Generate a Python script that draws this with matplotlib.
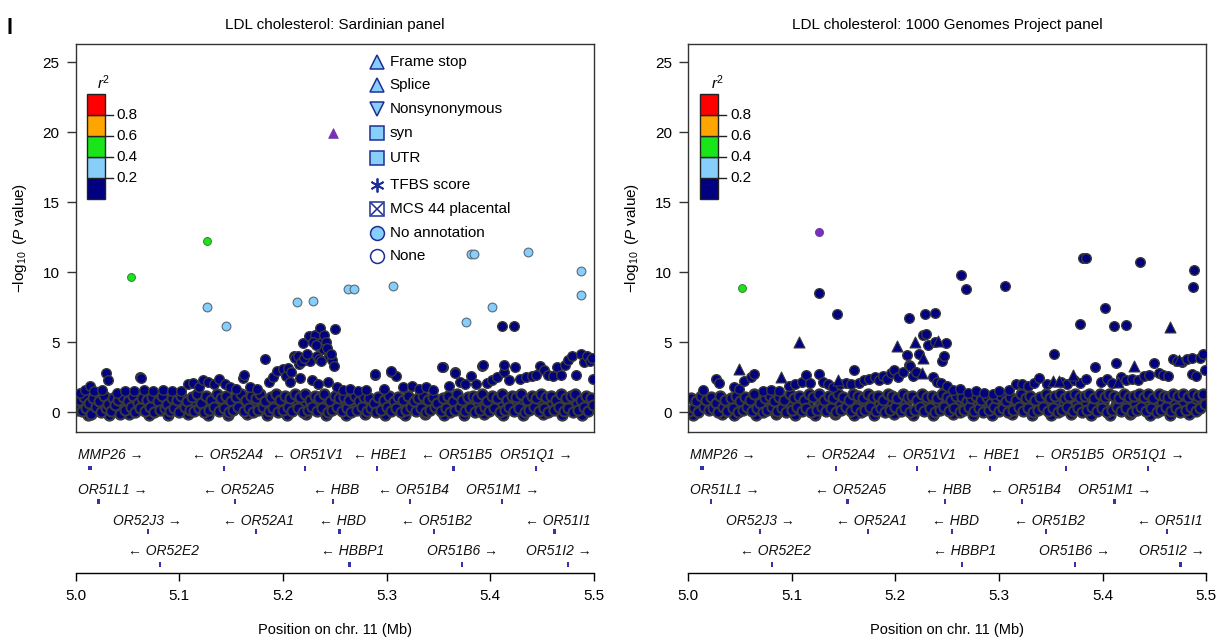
import matplotlib
matplotlib.use('Agg')
import matplotlib.pyplot as plt
from matplotlib.patches import Rectangle

plt.rcParams['font.family'] = ['Liberation Sans', 'DejaVu Sans']
plt.rcParams['mathtext.fontset'] = 'custom'
plt.rcParams['mathtext.rm'] = 'Liberation Sans'
plt.rcParams['mathtext.it'] = 'Liberation Sans:italic'
plt.rcParams['mathtext.bf'] = 'Liberation Sans:bold'

# ---------------- data ----------------
panel_titles = ['LDL cholesterol: Sardinian panel', 'LDL cholesterol: 1000 Genomes Project panel']
y_ticks = [0, 5, 10, 15, 20, 25]
x_ticks = [5.0, 5.1, 5.2, 5.3, 5.4, 5.5]
r2_labels = ['0.8', '0.6', '0.4', '0.2']

# dense low-significance SNP band (positions shared by both panels)
band_x = [5.001, 5.003, 5.006, 5.008, 5.010, 5.013, 5.015, 5.017, 5.020, 5.022,
          5.024, 5.027, 5.029, 5.031, 5.034, 5.036, 5.038, 5.041, 5.043, 5.046,
          5.048, 5.050, 5.053, 5.055, 5.057, 5.060, 5.062, 5.064, 5.067, 5.069,
          5.072, 5.074, 5.076, 5.079, 5.081, 5.083, 5.086, 5.088, 5.091, 5.093,
          5.095, 5.098, 5.100, 5.102, 5.105, 5.107, 5.110, 5.112, 5.114, 5.117,
          5.119, 5.121, 5.124, 5.126, 5.129, 5.131, 5.133, 5.136, 5.138, 5.140,
          5.143, 5.145, 5.148, 5.150, 5.152, 5.155, 5.157, 5.159, 5.162, 5.164,
          5.167, 5.169, 5.171, 5.174, 5.176, 5.178, 5.181, 5.183, 5.186, 5.188,
          5.190, 5.193, 5.195, 5.197, 5.200, 5.202, 5.205, 5.207, 5.209, 5.212,
          5.214, 5.216, 5.219, 5.221, 5.224, 5.226, 5.228, 5.231, 5.233, 5.235,
          5.238, 5.240, 5.243, 5.245, 5.247, 5.250, 5.252, 5.254, 5.257, 5.259,
          5.262, 5.264, 5.266, 5.269, 5.271, 5.273, 5.276, 5.278, 5.281, 5.283,
          5.285, 5.288, 5.290, 5.292, 5.295, 5.297, 5.300, 5.302, 5.304, 5.307,
          5.309, 5.311, 5.314, 5.316, 5.319, 5.321, 5.323, 5.326, 5.328, 5.330,
          5.333, 5.335, 5.338, 5.340, 5.342, 5.345, 5.347, 5.349, 5.352, 5.354,
          5.357, 5.359, 5.361, 5.364, 5.366, 5.368, 5.371, 5.373, 5.376, 5.378,
          5.380, 5.383, 5.385, 5.387, 5.390, 5.392, 5.395, 5.397, 5.399, 5.402,
          5.404, 5.406, 5.409, 5.411, 5.414, 5.416, 5.418, 5.421, 5.423, 5.425,
          5.428, 5.430, 5.433, 5.435, 5.437, 5.440, 5.442, 5.444, 5.447, 5.449,
          5.452, 5.454, 5.456, 5.459, 5.461, 5.463, 5.466, 5.468, 5.471, 5.473,
          5.475, 5.478, 5.480, 5.482, 5.485, 5.487, 5.490, 5.492, 5.494, 5.497,
          5.499]

sard_band_y = [0.2, 0.9, 0.1, 1.1, 0.3, 0.7, -0.1, 1.0, 0.4, 0.8,
               0.0, 1.2, 0.3, 0.6, 0.1, 1.0, 0.5, 0.9, -0.1, 1.1,
               0.2, 0.8, 0.4, 1.2, 0.0, 0.7, 0.3, 1.0, 0.1, 0.9,
               0.4, 1.1, 0.0, 0.8, 0.2, 1.2, 0.3, 0.6, 0.1, 1.0,
               0.3, 0.9, 0.0, 1.2, 0.4, 0.8, 0.2, 1.1, 0.1, 1.3,
               0.3, 0.7, 0.0, 1.2, 0.2, 0.9, 0.4, 1.3, 0.1, 1.0,
               0.3, 1.2, 0.0, 0.8, 0.2, 1.1, 0.4, 1.3, 0.1, 0.9,
               0.3, 1.2, 0.0, 1.0, 0.2, 1.3, 0.4, 0.8, 0.1, 1.1,
               0.3, 1.3, 0.0, 0.9, 0.2, 1.2, 0.4, 1.0, 0.1, 1.3,
               0.3, 1.1, 0.0, 1.3, 0.2, 0.9, 0.4, 1.2, 0.1, 1.0,
               0.3, 1.3, 0.0, 0.8, 0.2, 1.2, 0.4, 1.0, 0.1, 1.1,
               0.3, 0.9, 0.0, 1.2, 0.2, 0.8, 0.4, 1.1, 0.1, 1.0,
               0.3, 0.7, 0.0, 1.1, 0.2, 0.9, 0.4, 1.2, 0.1, 0.8,
               0.3, 1.1, 0.0, 0.9, 0.2, 1.2, 0.4, 0.8, 0.1, 1.0,
               0.3, 1.2, 0.0, 0.9, 0.2, 1.1, 0.4, 0.7, 0.1, 1.0,
               0.3, 1.2, 0.0, 0.8, 0.2, 1.3, 0.4, 0.9, 0.1, 1.1,
               0.3, 1.2, 0.0, 1.0, 0.2, 1.3, 0.4, 0.8, 0.1, 1.2,
               0.3, 1.0, 0.0, 1.3, 0.2, 0.9, 0.4, 1.2, 0.1, 1.1,
               0.3, 1.3, 0.0, 0.9, 0.2, 1.2, 0.4, 1.0, 0.1, 1.3,
               0.3, 1.1, 0.0, 1.2, 0.2, 0.9, 0.4, 1.3, 0.1, 1.0,
               0.3, 1.2, 0.0, 1.3, 0.2, 0.9, 0.4, 1.2, 0.1, 1.0,
               0.5]

kg_band_y = [0.1, 1.0, 0.3, 0.8, 0.0, 1.2, 0.4, 0.9, 0.2, 1.1,
             0.3, 0.7, 0.0, 1.2, 0.4, 0.9, 0.1, 1.0, 0.3, 1.2,
             0.0, 0.8, 0.2, 1.1, 0.4, 0.9, 0.1, 1.3, 0.3, 0.7,
             0.0, 1.0, 0.2, 1.2, 0.4, 0.8, 0.1, 1.1, 0.3, 0.9,
             0.0, 1.3, 0.2, 1.0, 0.4, 1.2, 0.1, 0.9, 0.3, 1.3,
             0.0, 1.1, 0.2, 1.3, 0.4, 0.9, 0.1, 1.2, 0.3, 1.0,
             0.0, 1.3, 0.2, 1.1, 0.4, 0.9, 0.1, 1.3, 0.3, 1.2,
             0.0, 1.0, 0.2, 1.3, 0.4, 1.1, 0.1, 1.2, 0.3, 0.9,
             0.0, 1.3, 0.2, 1.2, 0.4, 1.0, 0.1, 1.3, 0.3, 1.1,
             0.0, 1.2, 0.2, 0.9, 0.4, 1.3, 0.1, 1.1, 0.3, 1.2,
             0.0, 1.0, 0.2, 1.3, 0.4, 1.1, 0.1, 0.9, 0.3, 1.2,
             0.0, 1.1, 0.2, 0.8, 0.4, 1.0, 0.1, 1.2, 0.3, 0.9,
             0.0, 1.1, 0.2, 0.7, 0.4, 1.0, 0.1, 1.2, 0.3, 0.8,
             0.0, 1.1, 0.2, 0.9, 0.4, 1.3, 0.1, 1.0, 0.3, 1.2,
             0.0, 0.9, 0.2, 1.1, 0.4, 1.3, 0.1, 1.0, 0.3, 1.2,
             0.0, 1.3, 0.2, 1.0, 0.4, 1.2, 0.1, 1.3, 0.3, 1.1,
             0.0, 1.2, 0.2, 1.3, 0.4, 1.0, 0.1, 1.3, 0.3, 1.1,
             0.0, 1.3, 0.2, 1.2, 0.4, 1.0, 0.1, 1.3, 0.3, 1.1,
             0.0, 1.2, 0.2, 1.3, 0.4, 1.1, 0.1, 1.3, 0.3, 1.0,
             0.0, 1.3, 0.2, 1.2, 0.4, 1.1, 0.1, 1.3, 0.3, 1.2,
             0.0, 1.3, 0.2, 1.1, 0.4, 1.3, 0.1, 1.2, 0.3, 1.3,
             0.6]

# second set of band SNPs (filling the gaps)
band2_x = [5.0045, 5.0115, 5.0185, 5.0255, 5.0325, 5.0395, 5.0445, 5.0515, 5.0585, 5.0655,
           5.0705, 5.0775, 5.0845, 5.0895, 5.0965, 5.1035, 5.1085, 5.1155, 5.1225, 5.1275,
           5.1345, 5.1415, 5.1465, 5.1535, 5.1605, 5.1655, 5.1725, 5.1795, 5.1845, 5.1915,
           5.1985, 5.2035, 5.2105, 5.2175, 5.2225, 5.2295, 5.2365, 5.2415, 5.2485, 5.2555,
           5.2605, 5.2675, 5.2745, 5.2795, 5.2865, 5.2935, 5.2985, 5.3055, 5.3125, 5.3175,
           5.3245, 5.3315, 5.3365, 5.3435, 5.3505, 5.3555, 5.3625, 5.3695, 5.3745, 5.3815,
           5.3885, 5.3935, 5.4005, 5.4075, 5.4125, 5.4195, 5.4265, 5.4315, 5.4385, 5.4455,
           5.4505, 5.4575, 5.4645, 5.4695, 5.4765, 5.4835, 5.4885, 5.4955]
sard_band2_y = [0.6, -0.2, 0.7, 0.5, -0.2, 0.6, 0.7, -0.1, 0.5, 0.6,
                -0.2, 0.7, 0.6, -0.2, 0.5, 0.7, -0.1, 0.6, 0.7, -0.2,
                0.5, 0.6, -0.2, 0.7, 0.6, -0.1, 0.5, 0.7, -0.2, 0.6,
                0.7, -0.2, 0.6, 0.5, -0.1, 0.7, 0.6, -0.2, 0.5, 0.7,
                -0.2, 0.6, 0.7, -0.1, 0.5, 0.6, -0.2, 0.7, 0.6, -0.2,
                0.5, 0.7, -0.1, 0.6, 0.7, -0.2, 0.5, 0.6, -0.2, 0.7,
                0.6, -0.1, 0.5, 0.7, -0.2, 0.6, 0.7, -0.2, 0.5, 0.6,
                -0.1, 0.7, 0.6, -0.2, 0.5, 0.7, -0.2, 0.6]
kg_band2_y = [-0.2, 0.6, 0.5, 0.7, -0.1, 0.6, -0.2, 0.7, 0.5, -0.2,
              0.6, 0.7, -0.1, 0.5, 0.6, -0.2, 0.7, 0.6, -0.2, 0.5,
              0.7, -0.1, 0.6, 0.5, -0.2, 0.7, 0.6, -0.2, 0.5, 0.7,
              -0.1, 0.6, 0.7, -0.2, 0.5, 0.6, -0.2, 0.7, 0.6, -0.1,
              0.5, 0.7, -0.2, 0.6, 0.5, -0.2, 0.7, 0.6, -0.1, 0.5,
              0.7, -0.2, 0.6, 0.5, -0.2, 0.7, 0.6, -0.1, 0.5, 0.7,
              -0.2, 0.6, 0.7, -0.2, 0.5, 0.6, -0.1, 0.7, 0.6, -0.2,
              0.5, 0.7, -0.2, 0.6, 0.5, -0.1, 0.7, 0.6]

# Sardinian panel: scattered navy SNPs (r2 < 0.2) above the band
sard_navy_x = [5.004, 5.009, 5.014, 5.018, 5.025, 5.029, 5.031, 5.040, 5.048, 5.056,
               5.062, 5.066, 5.075, 5.084, 5.093, 5.102, 5.108, 5.113, 5.119, 5.123,
               5.128, 5.133, 5.138, 5.144, 5.149, 5.155, 5.161, 5.162, 5.168, 5.175,
               5.183, 5.186, 5.190, 5.194, 5.200, 5.203, 5.207, 5.211, 5.215, 5.216,
               5.219, 5.222, 5.225, 5.226, 5.231, 5.233, 5.236, 5.238, 5.240, 5.241,
               5.239, 5.244, 5.247, 5.249, 5.250, 5.228, 5.234, 5.243, 5.252, 5.258,
               5.265, 5.272, 5.280, 5.289, 5.297, 5.304, 5.309, 5.316, 5.324, 5.331,
               5.338, 5.345, 5.354, 5.360, 5.366, 5.371, 5.376, 5.381, 5.386, 5.392,
               5.397, 5.402, 5.406, 5.413, 5.418, 5.424, 5.429, 5.434, 5.440, 5.444,
               5.448, 5.452, 5.456, 5.460, 5.464, 5.468, 5.472, 5.475, 5.479, 5.483,
               5.487, 5.490, 5.493, 5.496, 5.498, 5.499, 5.411, 5.423, 5.393, 5.413,
               5.353, 5.366, 5.063, 5.304, 5.289, 5.205, 5.208, 5.212, 5.214, 5.217,
               5.220, 5.223, 5.229, 5.232, 5.235, 5.237, 5.242, 5.246]
sard_navy_y = [1.4, 1.6, 1.85, 1.5, 1.6, 2.84, 2.3, 1.4, 1.5, 1.5,
               2.49, 1.6, 1.5, 1.6, 1.5, 1.5, 2.0, 2.1, 1.8, 2.3,
               2.2, 2.0, 2.4, 2.0, 1.8, 1.7, 2.44, 2.7, 1.8, 1.7,
               3.79, 2.2, 2.5, 2.94, 3.08, 2.6, 2.2, 4.03, 3.48, 2.46,
               4.95, 3.72, 5.47, 3.7, 5.54, 4.0, 6.04, 5.0, 5.52, 5.05,
               4.5, 4.0, 3.72, 3.32, 5.95, 2.3, 2.0, 2.2, 1.8, 1.6,
               1.7, 1.5, 1.6, 2.65, 1.7, 2.89, 2.6, 1.8, 1.9, 1.7,
               1.8, 1.6, 3.25, 1.9, 2.89, 2.2, 2.0, 2.58, 2.0, 3.34,
               2.1, 2.3, 2.49, 2.89, 2.3, 3.25, 2.4, 2.5, 2.6, 2.7,
               3.29, 3.0, 2.7, 2.6, 3.25, 2.7, 3.41, 3.72, 4.03, 2.7,
               4.19, 3.6, 4.05, 3.7, 3.9, 2.4, 6.19, 6.19, 3.38, 3.38,
               3.26, 2.83, 2.48, 2.95, 2.71, 3.2, 2.9, 3.9, 4.0, 3.6,
               3.9, 4.2, 5.0, 4.8, 3.8, 3.7, 4.6, 4.2]

# Sardinian panel: 0.2 <= r2 < 0.4 (light blue), 0.4-0.6 (green), lead SNP (purple)
sard_lb_x = [5.127, 5.1447, 5.2134, 5.229, 5.263, 5.268, 5.306, 5.377, 5.381, 5.384, 5.402, 5.436, 5.487, 5.487]
sard_lb_y = [7.5, 6.14, 7.86, 7.95, 8.83, 8.83, 9.02, 6.48, 11.33, 11.33, 7.52, 11.43, 10.07, 8.36]
sard_green_x = [5.0536, 5.1268]
sard_green_y = [9.64, 12.26]
sard_lead_x = [5.248]
sard_lead_y = [19.98]

# 1000 Genomes panel: scattered navy SNPs above the band
kg_navy_x = [5.014, 5.027, 5.030, 5.044, 5.049, 5.054, 5.061, 5.064, 5.072, 5.080,
             5.088, 5.097, 5.103, 5.110, 5.114, 5.118, 5.126, 5.130, 5.135, 5.140,
             5.147, 5.152, 5.157, 5.160, 5.165, 5.170, 5.175, 5.180, 5.184, 5.188,
             5.192, 5.196, 5.199, 5.203, 5.207, 5.211, 5.213, 5.214, 5.217, 5.220,
             5.223, 5.227, 5.230, 5.232, 5.238, 5.245, 5.247, 5.249, 5.236, 5.240,
             5.244, 5.250, 5.256, 5.262, 5.270, 5.278, 5.286, 5.294, 5.300, 5.310,
             5.316, 5.322, 5.328, 5.334, 5.339, 5.346, 5.353, 5.360, 5.366, 5.372,
             5.378, 5.384, 5.393, 5.398, 5.404, 5.409, 5.413, 5.418, 5.423, 5.428,
             5.434, 5.440, 5.445, 5.450, 5.454, 5.458, 5.463, 5.468, 5.472, 5.477,
             5.481, 5.486, 5.486, 5.490, 5.494, 5.497, 5.499,
             5.126, 5.144, 5.213, 5.229, 5.238, 5.263, 5.268, 5.306, 5.381, 5.384,
             5.436, 5.488, 5.487, 5.378, 5.402, 5.411, 5.423]
kg_navy_y = [1.6, 2.38, 2.07, 1.8, 1.7, 2.24, 2.55, 2.71, 1.5, 1.6,
             1.5, 1.9, 2.0, 2.2, 2.7, 2.1, 2.71, 2.2, 2.0, 1.8,
             2.0, 2.1, 2.0, 3.02, 2.1, 2.3, 2.4, 2.5, 2.3, 2.6,
             2.4, 2.8, 3.02, 2.5, 2.9, 4.1, 3.4, 3.3, 2.6, 2.9,
             4.2, 5.52, 5.6, 4.81, 5.05, 3.67, 4.02, 4.98, 2.5, 2.2,
             2.1, 1.9, 1.6, 1.7, 1.4, 1.5, 1.4, 1.3, 1.5, 1.6,
             2.0, 2.0, 1.9, 2.1, 2.43, 2.0, 4.14, 2.2, 2.0, 2.3,
             2.1, 2.4, 3.26, 2.2, 2.4, 2.1, 3.5, 2.5, 2.3, 2.4,
             2.3, 2.6, 2.7, 3.5, 2.8, 2.7, 2.6, 3.8, 3.7, 3.6,
             3.8, 2.71, 3.86, 2.6, 3.86, 4.17, 3.0,
             8.5, 7.05, 6.71, 7.0, 7.07, 9.81, 8.79, 9.05, 11.05, 11.05,
             10.74, 10.17, 8.98, 6.31, 7.45, 6.17, 6.24]
# 1000 Genomes panel: navy SNPs with a coding annotation (triangles)
kg_tri_x = [5.049, 5.090, 5.107, 5.145, 5.2017, 5.2186, 5.227, 5.2255, 5.241, 5.352, 5.358, 5.371, 5.415, 5.430, 5.465, 5.474]
kg_tri_y = [3.07, 2.55, 5.02, 2.3, 4.76, 5.02, 3.86, 2.79, 5.1, 2.24, 2.24, 2.67, 2.2, 3.31, 6.12, 3.74]
kg_green_x = [5.052]
kg_green_y = [8.86]
kg_lead_x = [5.126]
kg_lead_y = [12.86]

# annotation legend (Sardinian panel)
annot_labels = ['Frame stop', 'Splice', 'Nonsynonymous', 'syn', 'UTR', 'TFBS score',
                'MCS 44 placental', 'No annotation', 'None']

# genes
gene_names = ['MMP26', 'OR52A4', 'OR51V1', 'HBE1', 'OR51B5', 'OR51Q1',
              'OR51L1', 'OR52A5', 'HBB', 'OR51B4', 'OR51M1',
              'OR52J3', 'OR52A1', 'HBD', 'OR51B2', 'OR51I1',
              'OR52E2', 'HBBP1', 'OR51B6', 'OR51I2']
gene_pos = [5.0134, 5.143, 5.221, 5.291, 5.3645, 5.444,
            5.022, 5.154, 5.248, 5.3225, 5.4115,
            5.0695, 5.1737, 5.2546, 5.3454, 5.4618,
            5.0813, 5.264, 5.373, 5.475]
gene_len = [0.004, 0.001, 0.001, 0.0015, 0.001, 0.001,
            0.001, 0.001, 0.0016, 0.001, 0.001,
            0.001, 0.001, 0.0016, 0.001, 0.001,
            0.001, 0.0016, 0.001, 0.001]
gene_strand = ['+', '-', '-', '-', '-', '+',
               '+', '-', '-', '-', '+',
               '+', '-', '-', '-', '-',
               '-', '-', '+', '+']
gene_row = [0, 0, 0, 0, 0, 0, 1, 1, 1, 1, 1, 2, 2, 2, 2, 2, 3, 3, 3, 3]

# ---------------- style ----------------
NAVY = '#000080'
LB = '#87CEFA'
GREEN = '#19E619'
ORANGE = '#FFA500'
RED = '#FF0000'
PURPLE = '#7B2FBE'
EDGE = '#3a3a3a'
GENEC = '#3434A8'

W, H = 1220, 637
fig = plt.figure(figsize=(W / 100, H / 100), dpi=100)


def px_axes(l, t, r, b):
    return fig.add_axes([l / W, 1 - b / H, (r - l) / W, (b - t) / H])


TOP, BOT, GBOT = 44.0, 431.7, 572.7
YMIN, YMAX = -1.38, 26.3
lefts = [75.7, 688.0]
PW = 518.3

gene_label_y = [455, 490, 521, 551]
gene_mark_y = [468, 501, 531, 564]

panels = [
    dict(band_y=sard_band_y, band2_y=sard_band2_y, navy=(sard_navy_x, sard_navy_y), tri=None,
         lb=(sard_lb_x, sard_lb_y), green=(sard_green_x, sard_green_y),
         lead=(sard_lead_x, sard_lead_y), lead_marker='^', legend=True),
    dict(band_y=kg_band_y, band2_y=kg_band2_y, navy=(kg_navy_x, kg_navy_y), tri=(kg_tri_x, kg_tri_y),
         lb=None, green=(kg_green_x, kg_green_y),
         lead=(kg_lead_x, kg_lead_y), lead_marker='o', legend=False),
]

for pi, (L, P) in enumerate(zip(lefts, panels)):
    ax = px_axes(L, TOP, L + PW, BOT)
    ax.set_xlim(5.0, 5.5)
    ax.set_ylim(YMIN, YMAX)
    for sp in ax.spines.values():
        sp.set_linewidth(1.0)
        sp.set_color('#333333')
    ax.set_xticks([])
    ax.set_yticks(y_ticks)
    ax.set_yticklabels([str(t) for t in y_ticks], fontsize=11)
    ax.tick_params(axis='y', length=6.5, width=1.0, pad=5.0, color='#333333')

    # band
    ax.scatter(band2_x, P['band2_y'], s=54, c=NAVY, edgecolors=EDGE, linewidths=1.5, zorder=2)
    ax.scatter(band_x, P['band_y'], s=54, c=NAVY, edgecolors=EDGE, linewidths=1.5, zorder=2)
    nx, ny = P['navy']
    ax.scatter(nx, ny, s=48, c=NAVY, edgecolors=EDGE, linewidths=1.0, zorder=3)
    if P['tri'] is not None:
        tx, ty = P['tri']
        ax.scatter(tx, ty, s=62, marker='^', c=NAVY, edgecolors=EDGE, linewidths=0.8, zorder=3)
    if P['lb'] is not None:
        lx, ly = P['lb']
        ax.scatter(lx, ly, s=40, c=LB, edgecolors='#5a6a7a', linewidths=0.8, zorder=4)
    gx, gy = P['green']
    ax.scatter(gx, gy, s=32, c=GREEN, edgecolors='#3a7a3a', linewidths=0.7, zorder=4)
    px_, py_ = P['lead']
    ax.scatter(px_, py_, s=48 if P['lead_marker'] == '^' else 34, marker=P['lead_marker'],
               c=PURPLE, edgecolors='#6a3a9a', linewidths=0.6, zorder=5)

    # r2 colour bar
    cb_x0 = 5.0106 if pi == 0 else 5.0116
    cb_w = 0.0177
    bounds = [15.2, 16.74, 18.26, 19.74, 21.26, 22.74]
    cols = [NAVY, LB, GREEN, ORANGE, RED]
    for i, c in enumerate(cols):
        ax.add_patch(Rectangle((cb_x0, bounds[i]), cb_w, bounds[i + 1] - bounds[i],
                               facecolor=c, edgecolor='#222222', linewidth=1.0, zorder=6))
    for i, lab in enumerate(r2_labels[::-1]):
        yb = bounds[i + 1]
        ax.plot([cb_x0 + cb_w, cb_x0 + cb_w + 0.0077], [yb, yb], color='#222222', lw=1.0, zorder=6)
        ax.text(cb_x0 + cb_w + 0.0113, yb, lab, fontsize=11, va='center', ha='left', zorder=6)
    ax.text(cb_x0 + cb_w - 0.001, 23.55, r'$r^2$', fontsize=11, ha='center', va='center', zorder=6)

    # annotation legend
    if P['legend']:
        lgx = 5.2905
        txx = 5.303
        rows_y = [25.02, 23.38, 21.66, 19.95, 18.16, 16.24, 14.52, 12.81, 11.17]
        lcol = '#1E2E96'
        specs = [('^', LB), ('^', LB), ('v', LB), ('s', LB), ('s', LB),
                 ((6, 2, 0), None), ('s', 'white'), ('o', LB), ('o', 'white')]
        for (mk, fc), yv, lab in zip(specs, rows_y, annot_labels):
            if fc is None:
                ax.plot([lgx], [yv], marker=mk, markersize=10, markeredgecolor=lcol,
                        markeredgewidth=1.3, linestyle='none', zorder=6)
            else:
                ax.plot([lgx], [yv], marker=mk, markersize=9.5 if mk != 'o' else 10,
                        markerfacecolor=fc, markeredgecolor=lcol, markeredgewidth=1.1,
                        linestyle='none', zorder=6)
            if lab.startswith('MCS'):
                ax.plot([lgx], [yv], marker='x', markersize=8, markeredgecolor=lcol,
                        markeredgewidth=1.1, linestyle='none', zorder=7)
            ax.text(txx, yv, lab, fontsize=11, va='center', ha='left', zorder=6)

    # title
    ax.text(0.5, 1 + (TOP - 25) / (BOT - TOP), panel_titles[pi], transform=ax.transAxes,
            ha='center', va='center', fontsize=11)

    # y label
    fig.text((L - 55.7) / W, 1 - 238 / H, r'$-\log_{10}$ ($P$ value)', rotation=90,
             ha='center', va='center', fontsize=11)

    # gene track
    gax = px_axes(L, BOT, L + PW, GBOT)
    gax.set_xlim(5.0, 5.5)
    gax.set_ylim(GBOT, BOT)
    gax.patch.set_alpha(0)
    for s in ['top', 'left', 'right']:
        gax.spines[s].set_visible(False)
    gax.spines['bottom'].set_bounds(5.0, 5.5)
    gax.spines['bottom'].set_linewidth(1.0)
    gax.set_yticks([])
    gax.set_xticks(x_ticks)
    gax.set_xticklabels(['%.1f' % t for t in x_ticks], fontsize=11)
    gax.tick_params(axis='x', length=5.5, width=1.0, pad=6.5)

    for name, pos, ln, st, row in zip(gene_names, gene_pos, gene_len, gene_strand, gene_row):
        w = max(ln, 0.0022)
        hgt = 5.0 if ln < 0.003 else 4.5
        my = gene_mark_y[row]
        gax.add_patch(Rectangle((pos - w / 2, my - hgt / 2), w, hgt, facecolor=GENEC,
                                edgecolor='none', zorder=3))
        lab = (name + ' \u2192') if st == '+' else ('\u2190 ' + name)
        if pos < 5.035:
            x, ha = 5.002, 'left'
        elif pos > 5.47:
            x, ha = 5.498, 'right'
        else:
            x, ha = pos + (0.003 if st == '-' else 0.0), 'center'
        gax.text(x, gene_label_y[row], lab, fontsize=10, style='italic', ha=ha, va='center',
                 color='#111111')

    fig.text((L + PW / 2) / W, 1 - 630 / H, 'Position on chr. 11 (Mb)', ha='center',
             va='center', fontsize=10.5)

# panel letter fragment at top-left
fig.text(10 / W, 1 - 28 / H, 'l', fontsize=16, fontweight='bold', ha='center', va='center')

fig.savefig('out.png', dpi=100)
